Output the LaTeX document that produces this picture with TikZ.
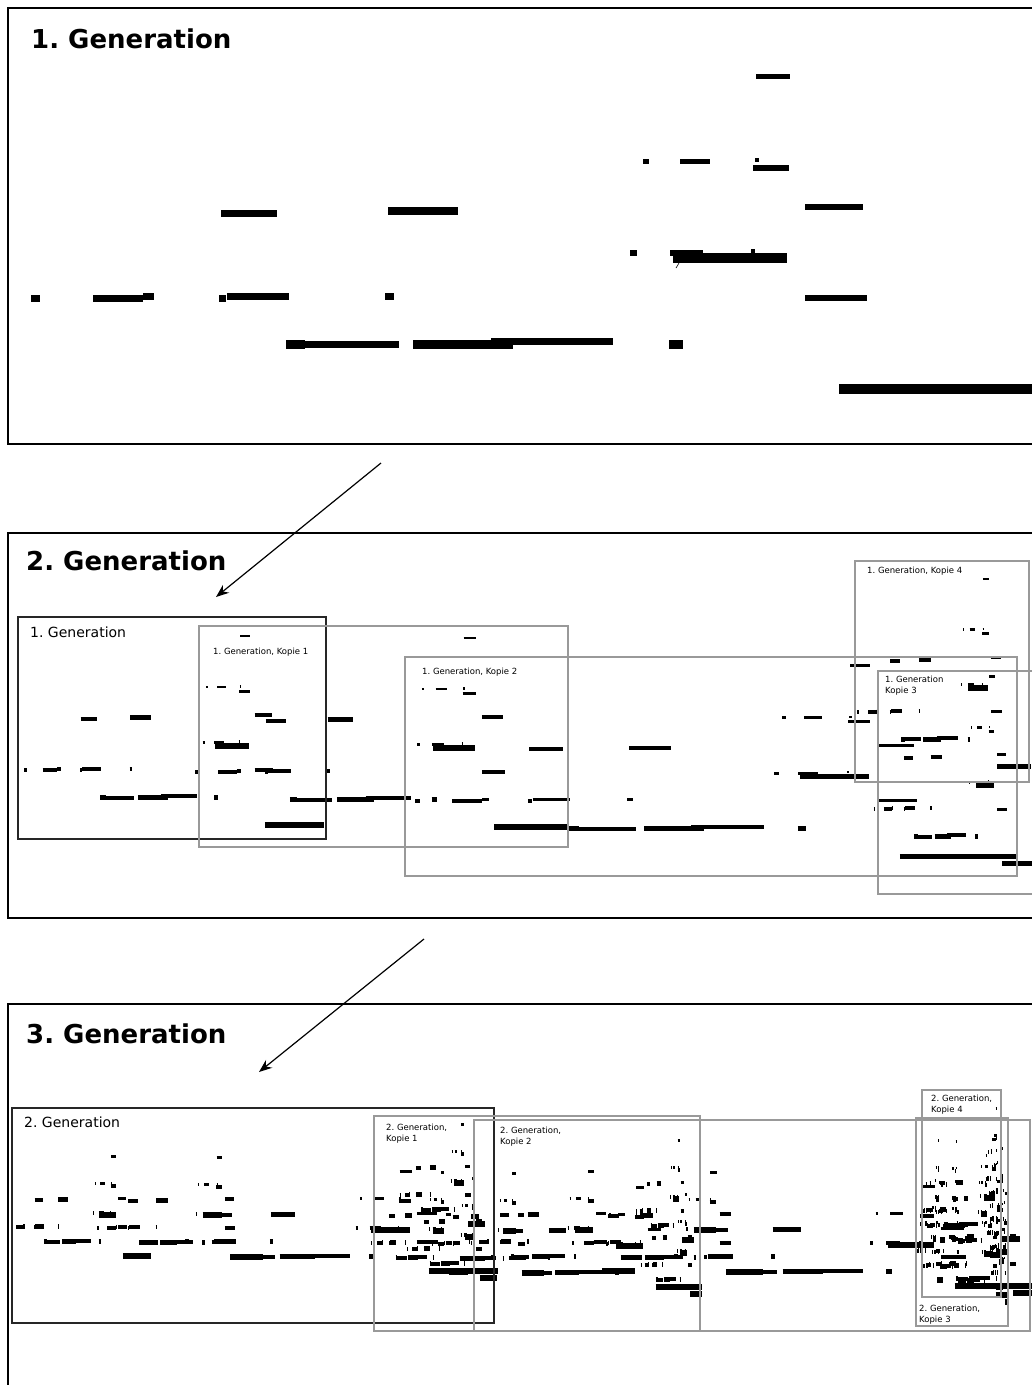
\documentclass[tikz,border=0pt]{standalone}
\usepackage{fontspec}
\setmainfont{DejaVu Sans}
\usetikzlibrary{arrows.meta,positioning}
\frenchspacing

% note height factor
\newcommand{\nf}{1}
% one generation: x1/x2/y/height
\newcommand{\genone}{%
  \foreach \xa/\xb/\yy/\hh [evaluate=\hh as \lw using \hh*\nf] in {
      756/790/76.5/5, 643/649/161/5, 680/710/161/5, 755/759/160/4, 753/789/168/6,
      221/277/213/7, 388/458/211/8, 805/863/207/6,
      630/637/253/6, 670/703/253/6, 751/755/251/4, 673/787/258/10,
      31/40/298/7, 93/143/298/7, 143/154/296/7, 219/226/298/7, 227/289/296/7,
      385/394/296/7, 805/867/298/6,
      286/305/344/9, 305/399/344/7, 413/513/344/9, 491/613/341/7, 669/683/344/9,
      839/1036/389/10}
    \draw[line width=\lw pt] (\xa,\yy) -- (\xb,\yy);
}
% second generation as it sits in the third
\newcommand{\gentwo}{%
  \foreach \ax/\sx/\ay/\sy in {3/.143/1132.7/.317, 92/.165/1133.5/.317,
      135/.35/1147.7/.317, 404/.09/1154.7/.317, 397/.085/1100.7/.317}
    {\begin{scope}[shift={(\ax,\ay)}, xscale=\sx, yscale=\sy] \genone \end{scope}}
}

\begin{document}
\begin{tikzpicture}[x=1pt, y=-1pt,
    frm/.style={draw, line width=2.6pt},
    ibox/.style={draw=black!85, line width=1.5pt},
    cbox/.style={draw=black!40, line width=1.5pt},
    ttl/.style={inner sep=0pt, anchor=base west, font=\fontsize{26}{30}\selectfont\bfseries},
    lbl/.style={inner sep=0pt, anchor=base west, font=\fontsize{14}{16}\selectfont},
    sml/.style={inner sep=0pt, anchor=base west, align=left, font=\fontsize{8.5}{11}\selectfont},
    ar/.style={-{Stealth[length=13pt, width=10pt]}, line width=1.2pt}
  ]
  \useasboundingbox (0,0) rectangle (1032,1385);
  \clip (0,0) rectangle (1032,1385);

  % ---- 1. Generation ----
  \draw[frm] (8,8) rectangle (1040,444);
  \node[ttl] (t1) at (31,48) {1. Generation};
  \genone
  \draw[line width=0.6pt] (679,263) -- (676,268);

  % ---- arrow ----
  \coordinate (a1s) at (381,463);
  \coordinate (a1e) at (216,597);
  \draw[ar] (a1s) -- (a1e);

  % ---- 2. Generation ----
  \draw[frm] (8,533) rectangle (1040,918);
  \node[ttl] (t2) at (26,570) {2. Generation};
  \begin{scope}
    \renewcommand{\nf}{0.55}
    \foreach \ax/\sx/\ay/\sy in {14.8/.298/589.7/.605, 184/.37/591.7/.605,
        396.4/.6/619/.61, 869/.159/631/.598, 852/.173/533/.6}
      {\begin{scope}[shift={(\ax,\ay)}, xscale=\sx, yscale=\sy] \genone \end{scope}}
  \end{scope}
  \draw[ibox] (18,617) rectangle (326,839);
  \draw[cbox] (199,626) rectangle (568,847);
  \draw[cbox] (405,657) rectangle (1017,876);
  \draw[cbox] (878,671) rectangle (1040,894);
  \draw[cbox] (855,561) rectangle (1029,782);
  \node[lbl] (g1) at (30,637) {1. Generation};
  \node[sml] (k1) at (213,654) {1. Generation, Kopie 1};
  \node[sml] (k2) at (422,674) {1. Generation, Kopie 2};
  \node[sml] (k3) at (885,693) {1. Generation\\Kopie 3};
  \node[sml] (k4) at (867,573) {1. Generation, Kopie 4};

  % ---- arrow ----
  \coordinate (a2s) at (424,939);
  \coordinate (a2e) at (259,1072);
  \draw[ar] (a2s) -- (a2e);

  % ---- 3. Generation ----
  \draw[frm] (8,1004) rectangle (1040,1400);
  \node[ttl] (t3) at (26,1043) {3. Generation};
  \begin{scope}
    \renewcommand{\nf}{0.6}
    \foreach \tx/\ts/\ty in {0/1/0, 365.9/.676/16, 460.2/1.1535/15,
        913.7/.191/24, 920/.164/-16}
      {\begin{scope}[shift={(\tx,\ty)}, xscale=\ts] \gentwo \end{scope}}
  \end{scope}
  \draw[ibox] (12,1108) rectangle (494,1323);
  \draw[cbox] (374,1116) rectangle (700,1331);
  \draw[cbox] (474,1120) rectangle (1030,1331);
  \draw[cbox] (916,1118) rectangle (1008,1326);
  \draw[cbox] (922,1090) rectangle (1001,1297);
  \node[lbl] (h1) at (24,1127) {2. Generation};
  \node[sml] (m1) at (386,1141) {2. Generation,\\Kopie 1};
  \node[sml] (m2) at (500,1144) {2. Generation,\\Kopie 2};
  \node[sml] (m3) at (919,1322) {2. Generation,\\Kopie 3};
  \node[sml] (m4) at (931,1112) {2. Generation,\\Kopie 4};
\end{tikzpicture}
\end{document}
